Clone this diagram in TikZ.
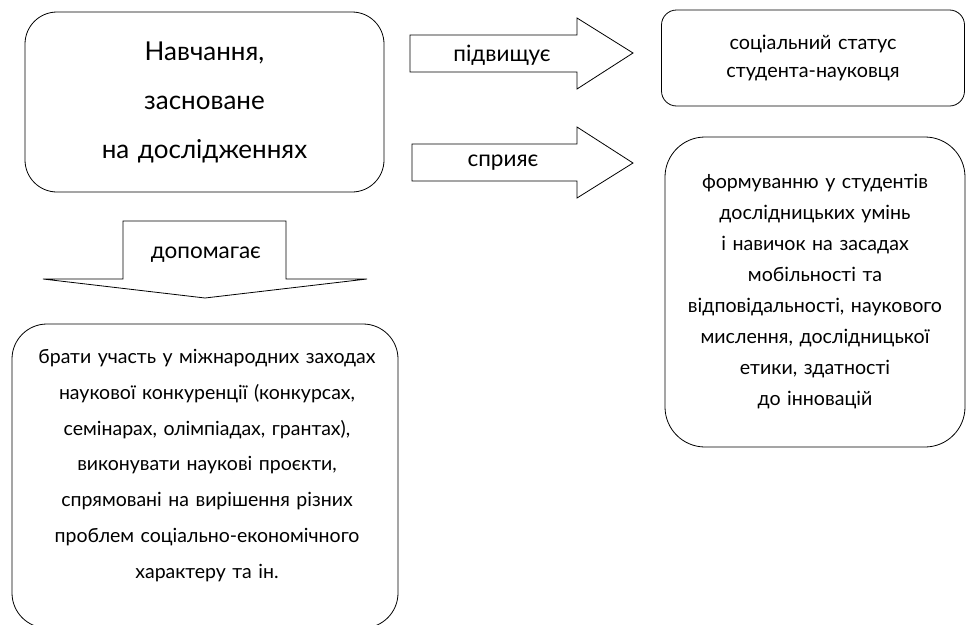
\documentclass[tikz,border=0pt]{standalone}
\usepackage{fontspec}
\setmainfont{Lato}
\usetikzlibrary{positioning}

\begin{document}
\begin{tikzpicture}[
            x = 1pt, y = -1pt, % one unit = one pixel of the page, y downwards
            line width = 0.8pt, % line style
            box/.style = {draw, rounded corners = #1, inner sep = 0pt},
            box/.default = 32pt,
            txt/.style = {align = center, inner sep = 0pt, text width = #1},
            lbl/.style = {font = \fontsize{22.5}{26}\selectfont, inner sep = 0pt},
            blockarrow/.style = {draw, line join = miter}
        ]

	\useasboundingbox (0,0) rectangle (966,624);
	\clip (0,0) rectangle (966,624);

	% boxes
	\node[box, minimum width = 359pt, minimum height = 180pt,
	      txt = 330pt, font = \fontsize{26}{49}\selectfont] (navch) at (204.5,102)
	      {Навчання,\\засноване\\на дослідженнях};
	\node[box = 15pt, minimum width = 303pt, minimum height = 96pt,
	      txt = 290pt, font = \fontsize{19.8}{28}\selectfont] (status) at (813,58)
	      {соціальний статус\\студента-науковця};
	\node[box = 40pt, minimum width = 300pt, minimum height = 310pt,
	      txt = 296pt, font = \fontsize{19.6}{31}\selectfont] (formuv) at (815,292)
	      {формуванню у студентів\\дослідницьких умінь\\і навичок на засадах\\мобільності та\\відповідальності, наукового\\мислення, дослідницької\\етики, здатності\\до інновацій};
	\node[box = 35pt, minimum width = 386pt, minimum height = 304pt] (uchast) at (205,476) {};
	\node[txt = 384pt, font = \fontsize{19.5}{35.8}\selectfont] (uchast text) at (207,465.5)
	      {брати участь у міжнародних заходах\\наукової конкуренції (конкурсах,\\семінарах, олімпіадах, грантах),\\виконувати наукові проєкти,\\спрямовані на вирішення різних\\проблем соціально-економічного\\характеру та ін.};

	% block arrows
	\draw[blockarrow] (410,35) -- (577,35) -- (577,18) -- (633,53) -- (577,89) -- (577,72) -- (410,72) -- cycle;
	\draw[blockarrow] (412,144) -- (577,144) -- (577,127) -- (633,163) -- (577,198) -- (577,181) -- (412,181) -- cycle;
	\draw[blockarrow] (123,221) -- (286,221) -- (286,279) -- (367,279) -- (205,298) -- (43,279) -- (123,279) -- cycle;

	\node[lbl] (pidv) at (502,55) {підвищує};
	\node[lbl] (spr) at (503,163) {сприяє};
	\node[lbl] (dop) at (206,255) {допомагає};

\end{tikzpicture}
\end{document}
